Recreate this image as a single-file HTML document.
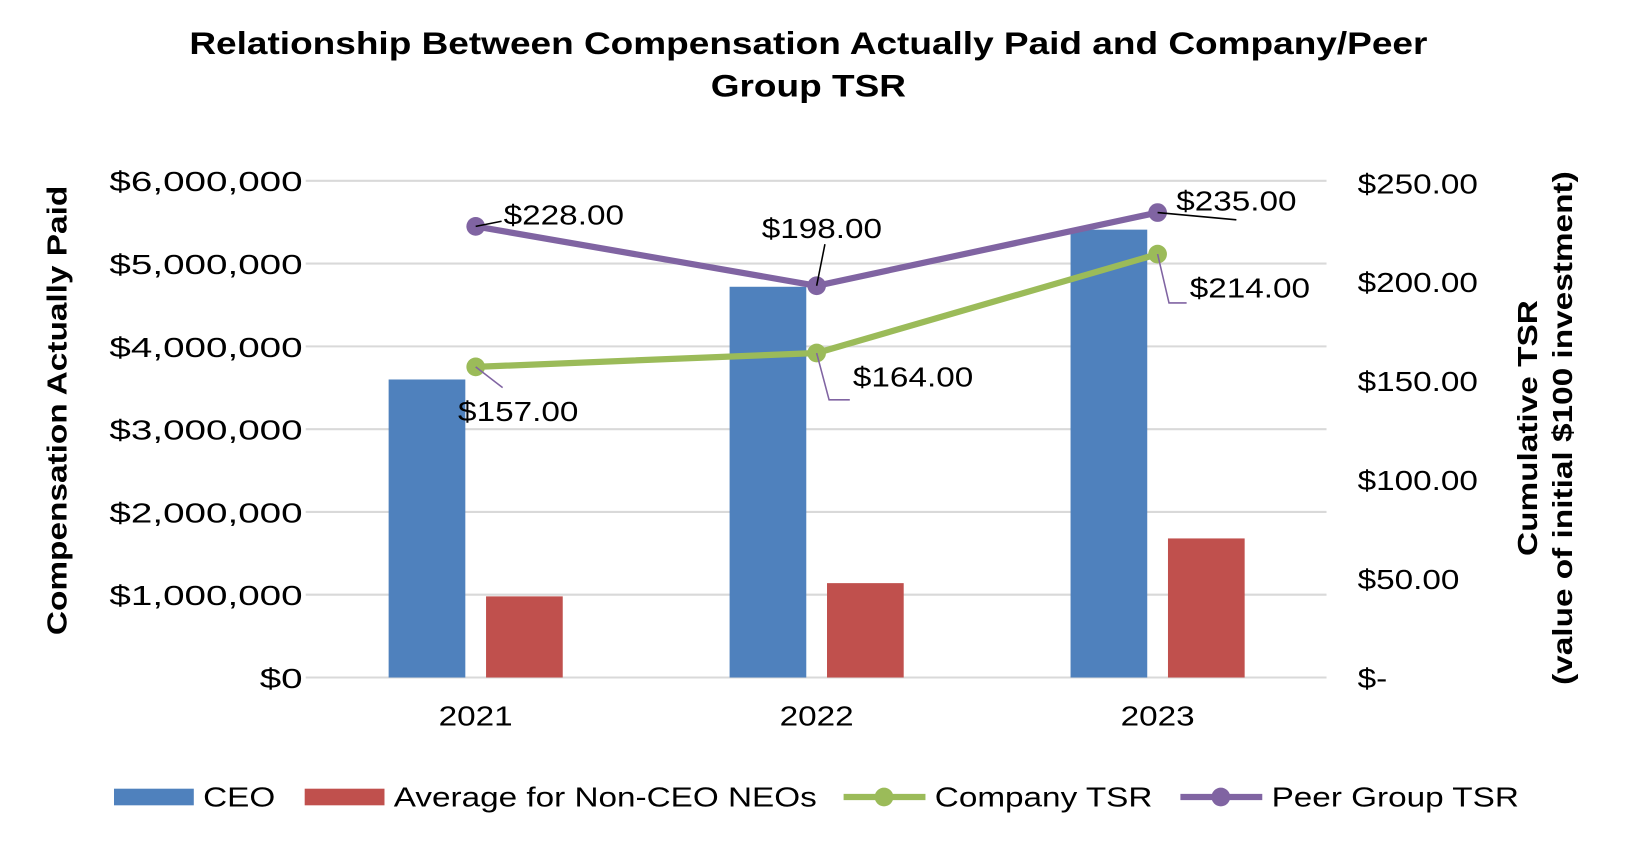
<!DOCTYPE html>
<html><head><meta charset="utf-8"><style>
html,body{margin:0;padding:0;background:#fff;}
svg{display:block;font-family:"Liberation Sans",Arial,sans-serif;}
</style></head><body>
<svg id="chart" width="1625" height="850" viewBox="0 0 1568 818" preserveAspectRatio="none" xmlns="http://www.w3.org/2000/svg">
<rect x="0" y="0" width="1568" height="818" fill="#fff"/>
<text x="780" y="52" text-anchor="middle" font-size="30" font-weight="bold">Relationship Between Compensation Actually Paid and Company/Peer</text>
<text x="780" y="93" text-anchor="middle" font-size="30" font-weight="bold">Group TSR</text>
<g id="grid"></g>
<g id="bars"></g>
<g id="lines"></g>
<g id="labels"></g>
<g id="axes"></g>
<text transform="translate(64,395) rotate(-90)" text-anchor="middle" font-size="27" font-weight="bold">Compensation Actually Paid</text>
<text transform="translate(1483,412) rotate(-90)" text-anchor="middle" font-size="27" font-weight="bold">Cumulative TSR</text>
<text transform="translate(1517,412) rotate(-90)" text-anchor="middle" font-size="27" font-weight="bold">(value of initial $100 investment)</text>
<g id="legend">
<rect x="110" y="759" width="77" height="16" fill="#4f81bd"/>
<text x="196" y="776" font-size="27">CEO</text>
<rect x="294" y="759" width="77" height="16" fill="#c0504d"/>
<text x="380" y="776" font-size="27">Average for Non-CEO NEOs</text>
<line x1="814" y1="767" x2="893" y2="767" stroke="#9bbb59" stroke-width="6"/>
<circle cx="853" cy="767" r="9" fill="#9bbb59"/>
<text x="902" y="776" font-size="27">Company TSR</text>
<line x1="1139" y1="767" x2="1218" y2="767" stroke="#8064a2" stroke-width="6"/>
<circle cx="1178" cy="767" r="9" fill="#8064a2"/>
<text x="1227" y="776" font-size="27">Peer Group TSR</text>
</g>
</svg>
<script>
const categories = ["2021","2022","2023"];
const ceoValues = [3600000, 4720000, 5410000];
const neoValues = [980000, 1140000, 1680000];
const companyTSR = [157, 164, 214];
const peerTSR = [228, 198, 235];
const leftTicks = ["$0","$1,000,000","$2,000,000","$3,000,000","$4,000,000","$5,000,000","$6,000,000"];
const rightTicks = ["$-","$50.00","$100.00","$150.00","$200.00","$250.00"];

const NS = "http://www.w3.org/2000/svg";
const plotL = 295, plotR = 1280, y0 = 652, yTop = 174;
function yL(v){ return y0 - v/6000000*(y0-yTop); }
function yR(v){ return y0 - v/250*(y0-176); }
function xC(i){ return 459 + i*329; }
function mk(tag, attrs, parent){ const e=document.createElementNS(NS,tag); for(const k in attrs) e.setAttribute(k,attrs[k]); parent.appendChild(e); return e; }
const grid=document.getElementById('grid'), bars=document.getElementById('bars'), lines=document.getElementById('lines'), labels=document.getElementById('labels'), axes=document.getElementById('axes');

leftTicks.forEach((t,i)=>{
  const y=yL(i*1000000);
  const g=mk('line',{x1:plotL,x2:plotR,y1:y,y2:y,stroke:'#d9d9d9','stroke-width':2},grid);
  
  
  const tx=mk('text',{x:292,y:y+10,'text-anchor':'end','font-size':27,'class':'lt'},axes);
  tx.textContent=t;
  
  
});
rightTicks.forEach((t,i)=>{
  const y=yR(i*50);
  const tx=mk('text',{x:1310,y:y+10,'font-size':27},axes);
  tx.textContent=t;
  
  
});
categories.forEach((c,i)=>{
  const tx=mk('text',{x:xC(i),y:698,'text-anchor':'middle','font-size':27},axes);
  tx.textContent=c;
  
  
  const b1=mk('rect',{x:xC(i)-84,y:yL(ceoValues[i]),width:74,height:y0-yL(ceoValues[i]),fill:'#4f81bd'},bars);
  
  
  const b2=mk('rect',{x:xC(i)+10,y:yL(neoValues[i]),width:74,height:y0-yL(neoValues[i]),fill:'#c0504d'},bars);
  
  
});
function series(vals,color,name){
  const pts=vals.map((v,i)=>xC(i)+','+yR(v)).join(' ');
  const pl=mk('polyline',{points:pts,fill:'none',stroke:color,'stroke-width':6},lines);
  
  
  vals.forEach((v,i)=>{
    const c=mk('circle',{cx:xC(i),cy:yR(v),r:9,fill:color},lines);
    
    
  });
}
series(companyTSR,'#9bbb59','company-tsr');
series(peerTSR,'#8064a2','peer-tsr');
const compOff=[[-17,52],[35,32],[31,42]];
const peerOff=[[27,-2],[-53,-46],[18,-2]];
function lbl(vals,offs,name){
  vals.forEach((v,i)=>{
    const x=xC(i), y=yR(v), tx=x+offs[i][0], ty=y+offs[i][1];
    const t=mk('text',{x:tx,y:ty,'font-size':27},labels);
    t.textContent='$'+v.toFixed(2);
    
    
  });
}
lbl(companyTSR,compOff,'company-tsr');
lbl(peerTSR,peerOff,'peer-tsr');
const leaders=[
 [[xC(0),yR(companyTSR[0])],[xC(0)+26,yR(companyTSR[0])+20],'#8064a2'],
 [[xC(1),yR(companyTSR[1])],[xC(1)+12,yR(companyTSR[1])+45],[xC(1)+32,yR(companyTSR[1])+45],'#8064a2'],
 [[xC(2),yR(companyTSR[2])],[xC(2)+11,yR(companyTSR[2])+47],[xC(2)+28,yR(companyTSR[2])+47],'#8064a2'],
 [[xC(0),yR(peerTSR[0])],[xC(0)+25,yR(peerTSR[0])-5],'#000'],
 [[xC(1),yR(peerTSR[1])],[xC(1)+8,yR(peerTSR[1])-40],'#000'],
 [[xC(2),yR(peerTSR[2])],[xC(2)+76,yR(peerTSR[2])+7],'#000']
];
leaders.forEach(l=>{
  const col=l[l.length-1];
  const pts=l.slice(0,-1).map(p=>p[0]+','+p[1]).join(' ');
  const e=mk('polyline',{points:pts,fill:'none',stroke:col,'stroke-width':1.5},labels);
  
  
});
// widen text to match reference typography
document.querySelectorAll('svg text').forEach(t=>{
  const w=t.getComputedTextLength();
  const f=t.getAttribute('class')==='lt'?1.38:1.19;
  t.setAttribute('textLength',(w*f).toFixed(1));
  t.setAttribute('lengthAdjust','spacingAndGlyphs');
});
</script>
</body></html>
